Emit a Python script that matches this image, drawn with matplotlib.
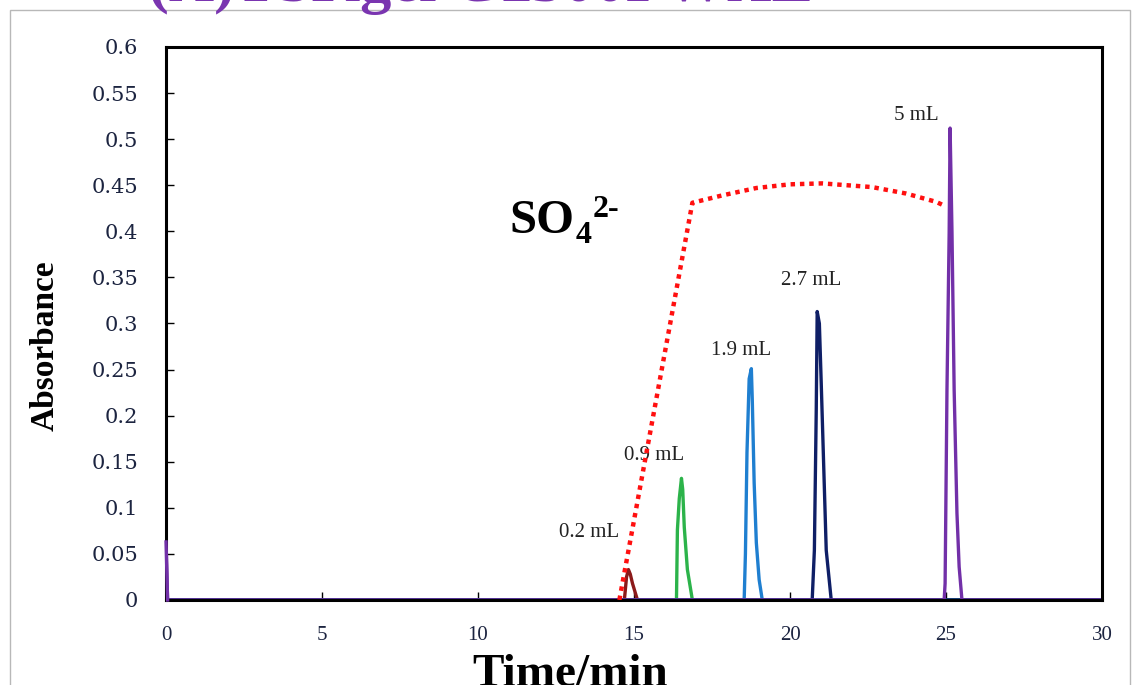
import matplotlib
matplotlib.use('Agg')
import matplotlib.pyplot as plt
from matplotlib.patches import Rectangle

# Elution peaks, one trace per injected volume (time in min, absorbance)
t_02 = [0, 14.69, 14.76, 14.82, 14.88, 14.95, 15.11, 30]
a_02 = [0, 0, 0.025, 0.033, 0.028, 0.018, 0, 0]

t_09 = [0, 16.36, 16.39, 16.45, 16.52, 16.56, 16.61, 16.71, 16.87, 30]
a_09 = [0, 0, 0.076, 0.11, 0.132, 0.12, 0.079, 0.033, 0, 0]

t_19 = [0, 18.53, 18.57, 18.62, 18.69, 18.76, 18.79, 18.85, 18.92, 19.01, 19.11, 30]
a_19 = [0, 0, 0.05, 0.16, 0.24, 0.251, 0.217, 0.127, 0.062, 0.022, 0, 0]

t_27 = [0, 20.71, 20.78, 20.84, 20.87, 20.94, 21.0, 21.09, 21.16, 21.32, 30]
a_27 = [0, 0, 0.054, 0.206, 0.313, 0.30, 0.235, 0.133, 0.054, 0, 0]

t_5 = [0, 0.05, 24.94, 24.97, 25.03, 25.10, 25.13, 25.19, 25.26, 25.35, 25.42, 25.51, 30]
a_5 = [0.063, 0, 0, 0.018, 0.228, 0.398, 0.512, 0.40, 0.228, 0.094, 0.036, 0, 0]

# peak-height trend for sulfate
trend_t = [14.53, 16.87, 17.83, 18.92, 20.0, 21.03, 22.63, 23.72, 24.68, 24.87]
trend_a = [0, 0.431, 0.439, 0.447, 0.451, 0.452, 0.448, 0.441, 0.432, 0.429]

volumes = ['0.2 mL', '0.9 mL', '1.9 mL', '2.7 mL', '5 mL']
label_t = [13.57, 15.65, 18.44, 20.68, 24.04]
label_a = [0.073, 0.157, 0.271, 0.347, 0.526]

xticks = [0, 5, 10, 15, 20, 25, 30]
yticks = [0, 0.05, 0.1, 0.15, 0.2, 0.25, 0.3, 0.35, 0.4, 0.45, 0.5, 0.55, 0.6]
ytick_labels = ['0', '0.05', '0.1', '0.15', '0.2', '0.25', '0.3', '0.35',
                '0.4', '0.45', '0.5', '0.55', '0.6']

fig = plt.figure(figsize=(11.38, 6.85), dpi=100)
ax = fig.add_axes([0.1459, 0.1241, 0.8225, 0.8073])

# outer frame of the figure panel
fig.patches.append(Rectangle((10 / 1138, -0.01), 1120 / 1138, 1 - 10 / 685 + 0.01,
                             transform=fig.transFigure, fill=False,
                             edgecolor='#b8b8b8', linewidth=1))

ax.plot(trend_t, trend_a, color='#ff1010', linewidth=3.2,
        linestyle=(0, (1, 1.1)), zorder=4)

lw = 2.4
ax.plot(t_02, a_02, color='#8b1a1a', linewidth=lw)
ax.plot(t_09, a_09, color='#2cb34a', linewidth=lw)
ax.plot(t_19, a_19, color='#1f7fd0', linewidth=lw)
ax.plot(t_27, a_27, color='#0f1f66', linewidth=lw)
ax.plot(t_5, a_5, color='#7230a8', linewidth=lw)
ax.plot(t_5[:2], a_5[:2], color='#7230a8', linewidth=lw, zorder=3, clip_on=False)

for txt, x, y in zip(volumes, label_t, label_a):
    ax.text(x, y, txt, ha='center', va='center', fontsize=15,
            family='Liberation Serif', color='#222222')

# SO4 2- label built from pieces so the charge keeps a plain hyphen
so_kw = dict(xycoords='data', textcoords='offset points', ha='left',
             va='baseline', fontweight='bold', family='Liberation Serif',
             color='black')
ax.annotate('SO', xy=(11.0, 0.398), xytext=(0, 0), fontsize=35, **so_kw)
ax.annotate('4', xy=(11.0, 0.398), xytext=(48, -7), fontsize=23, **so_kw)
ax.annotate('2-', xy=(11.0, 0.398), xytext=(60, 12), fontsize=23, **so_kw)

ax.set_xlim(0, 30)
ax.set_ylim(0, 0.6)
ax.set_xticks(xticks)
ax.set_yticks(yticks)
ax.set_yticklabels(ytick_labels)
ax.tick_params(axis='both', direction='in', length=6, width=1)
ax.tick_params(axis='y', pad=20, labelsize=15, labelcolor='#1c2440')
ax.tick_params(axis='x', pad=19, labelsize=15, labelcolor='#1c2440')
for lab in ax.get_xticklabels():
    lab.set_family('Liberation Serif')
for lab in ax.get_yticklabels():
    lab.set_family('DejaVu Serif')
for sp in ax.spines.values():
    sp.set_linewidth(2.2)

fig.text(45 / 1138, 1 - 346 / 685, 'Absorbance', rotation=90, ha='center',
         va='center', fontsize=24, fontweight='bold', family='Liberation Serif')
fig.text(570 / 1138, 1 - 686 / 685, 'Time/min', ha='center', va='baseline',
         fontsize=34, fontweight='bold', family='Liberation Serif')
fig.text(148 / 1138, 1 - 1 / 685, '(A)TSKgel G2500PWXL', ha='left',
         va='baseline', fontsize=45, fontweight='bold',
         family='Liberation Serif', color='#7a35b0')

fig.savefig('out.png', dpi=100)
